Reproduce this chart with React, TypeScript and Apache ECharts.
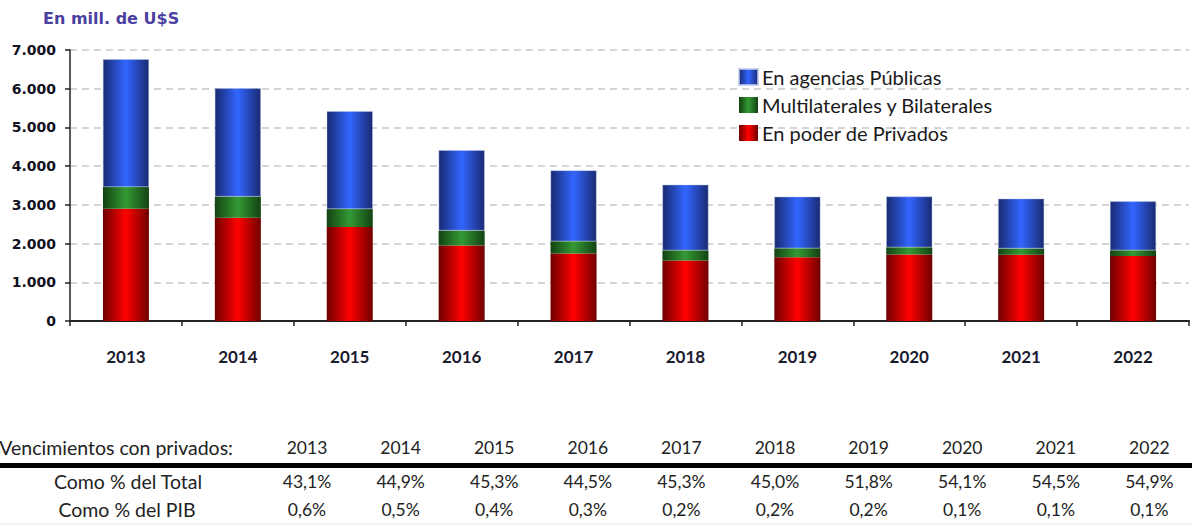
import React, { useEffect, useRef } from "react";
import * as echarts from "echarts";

const years = ["2013", "2014", "2015", "2016", "2017", "2018", "2019", "2020", "2021", "2022"];
const privados = [2900, 2670, 2430, 1950, 1745, 1565, 1645, 1715, 1710, 1680];
const multilaterales = [560, 545, 460, 390, 315, 260, 235, 190, 165, 150];
const publicas = [3300, 2795, 2530, 2070, 1830, 1695, 1330, 1310, 1285, 1260];
const yTicks = [0, 1000, 2000, 3000, 4000, 5000, 6000, 7000];
const pctTotal = ["43,1%", "44,9%", "45,3%", "44,5%", "45,3%", "45,0%", "51,8%", "54,1%", "54,5%", "54,9%"];
const pctPIB = ["0,6%", "0,5%", "0,4%", "0,3%", "0,2%", "0,2%", "0,2%", "0,1%", "0,1%", "0,1%"];
const seriesNames = ["En agencias Públicas", "Multilaterales y Bilaterales", "En poder de Privados"];
const tableTitle = "Vencimientos con privados:";
const rowLabels = ["Como % del Total", "Como % del PIB"];
const unitTitle = "En mill. de U$S";

const grad = (edge: string, mid: string) =>
  new echarts.graphic.LinearGradient(0, 0, 1, 0, [
    { offset: 0, color: edge },
    { offset: 0.5, color: mid },
    { offset: 1, color: edge },
  ]);

const fmt = (v: number) => (v === 0 ? "0" : `${Math.floor(v / 1000)}.${String(v % 1000).padStart(3, "0")}`);

export default function App() {
  const ref = useRef<HTMLDivElement>(null);
  useEffect(() => {
    if (!ref.current) return;
    const chart = echarts.init(ref.current, undefined, { renderer: "svg" });
    const tableFont = "Lato, 'Open Sans', sans-serif";
    const labelFont = `19.5px ${tableFont}`;
    const numFont = `17.5px ${tableFont}`;
    const colX = (i: number) => 307 + 93.6 * i;
    const txt = (text: string, x: number, y: number, font: string, align = "center") => ({
      type: "text",
      x,
      y,
      style: { text, font, fill: "#222", align, verticalAlign: "middle" },
    });
    const graphics: any[] = [
      {
        type: "text",
        left: 43,
        top: 10,
        style: { text: unitTitle, font: "bold 16px 'DejaVu Sans', sans-serif", fill: "#4b3fa0" },
      },
      txt(tableTitle, 233, 447, labelFont, "right"),
      {
        type: "rect",
        shape: { x: 0, y: 463, width: 1192, height: 5 },
        style: { fill: "#000" },
      },
      {
        type: "line",
        shape: { x1: 0, y1: 524, x2: 1192, y2: 524 },
        style: { stroke: "#e4e4e4", lineWidth: 1 },
      },
      txt(rowLabels[0], 128, 481, labelFont),
      txt(rowLabels[1], 127, 509, labelFont),
    ];
    years.forEach((y, i) => {
      graphics.push(txt(y, colX(i), 447, numFont));
      graphics.push(txt(pctTotal[i], colX(i), 481, numFont));
      graphics.push(txt(pctPIB[i], colX(i), 509, numFont));
    });

    const barCommon = { type: "bar", stack: "total", barWidth: 46 };
    chart.setOption({
      animation: false,
      backgroundColor: "#fff",
      grid: { left: 70, right: 3, top: 50, bottom: 205, containLabel: false },
      legend: {
        orient: "vertical",
        left: 738,
        top: 67,
        itemWidth: 19,
        itemHeight: 16,
        itemGap: 8,
        padding: 0,
        data: seriesNames,
        textStyle: { fontFamily: tableFont, fontSize: 20, color: "#1a1a1a", padding: [0, 0, 0, -1] },
        icon: "rect",
      },
      xAxis: {
        type: "category",
        data: years,
        axisLine: { lineStyle: { color: "#222", width: 2 } },
        axisTick: { show: true, length: 5, alignWithLabel: false, lineStyle: { color: "#222", width: 1.5 } },
        axisLabel: {
          margin: 27,
          fontFamily: tableFont,
          fontSize: 17,
          fontWeight: "bold",
          color: "#1a1a2e",
        },
      },
      yAxis: {
        type: "value",
        min: yTicks[0],
        max: yTicks[yTicks.length - 1],
        interval: 1000,
        axisLine: { show: true, lineStyle: { color: "#222", width: 1.5 } },
        axisTick: { show: true, length: 5, lineStyle: { color: "#222", width: 1.5 } },
        axisLabel: {
          margin: 14,
          formatter: (v: number) => fmt(v),
          fontFamily: "'DejaVu Sans', sans-serif",
          fontWeight: "bold",
          fontSize: 14,
          color: "#111122",
        },
        splitLine: { show: true, lineStyle: { color: "#c8c8c8", width: 1.5, type: [7, 5] } },
      },
      series: [
        {
          ...barCommon,
          name: seriesNames[2],
          data: privados,
          itemStyle: { color: grad("#700000", "#ff0000") },
        },
        {
          ...barCommon,
          name: seriesNames[1],
          data: multilaterales,
          itemStyle: { color: grad("#124212", "#359a35") },
        },
        {
          ...barCommon,
          name: seriesNames[0],
          data: publicas,
          itemStyle: { color: grad("#182a72", "#3366ff"), borderColor: "rgba(190,200,235,0.8)", borderWidth: 0.5 },
        },
      ],
      graphic: graphics,
    });
    return () => chart.dispose();
  }, []);
  return <div ref={ref} style={{ position: "fixed", left: 0, top: 0, width: 1192, height: 526 }} />;
}
